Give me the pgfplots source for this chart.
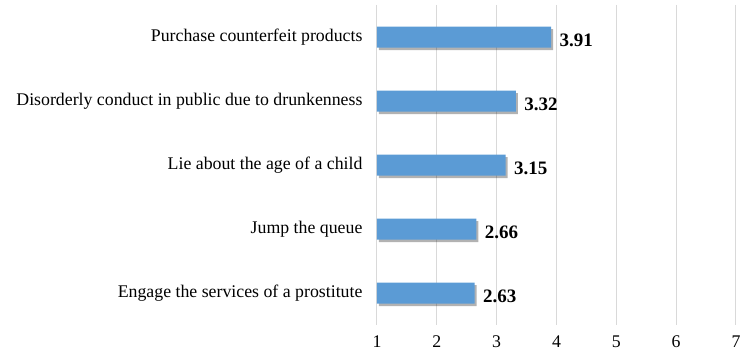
\documentclass[border=0pt]{standalone}
\usepackage{fontspec}
\setmainfont{Liberation Serif}
\usepackage{pgfplots}
\pgfplotsset{compat=1.18}
\usetikzlibrary{shadows}
\definecolor{barblue}{HTML}{5B9BD5}
\definecolor{gridgray}{HTML}{D9D9D9}
\begin{document}
\begin{tikzpicture}[x=1pt,y=1pt]
\useasboundingbox (-377,-36) rectangle (377,325);
\begin{axis}[
  at={(0,0)}, anchor=south west,
  scale only axis,
  width=359pt, height=320pt,
  xmin=1, xmax=7,
  ymin=0.5, ymax=5.5,
  y dir=reverse,
  xtick={1,2,3,4,5,6,7},
  ytick={1,2,3,4,5},
  yticklabels={Purchase counterfeit products,Disorderly conduct in public due to drunkenness,Lie about the age of a child,Jump the queue,Engage the services of a prostitute},
  xmajorgrids,
  grid style={gridgray, line width=1pt},
  axis line style={draw=none},
  major tick length=0pt,
  tick label style={font=\fontsize{17.8}{20}\selectfont},
  /pgf/number format/assume math mode=true,
  xticklabel style={yshift=-7pt},
  yticklabel style={xshift=-11pt},
  xbar,
  bar width=21pt,
  nodes near coords,
  nodes near coords style={font=\bfseries\fontsize{19}{22}\selectfont, anchor=west, xshift=5pt, yshift=-3pt},
  point meta=explicit symbolic,
  clip=false,
]
\addplot[fill=barblue, draw=none, bar shift=0pt,
  drop shadow={shadow xshift=2pt, shadow yshift=-2.5pt, fill=black, opacity=0.3}]
  coordinates {(3.91,1) [3.91] (3.32,2) [3.32] (3.15,3) [3.15] (2.66,4) [2.66] (2.63,5) [2.63]};
\end{axis}
\end{tikzpicture}
\end{document}
